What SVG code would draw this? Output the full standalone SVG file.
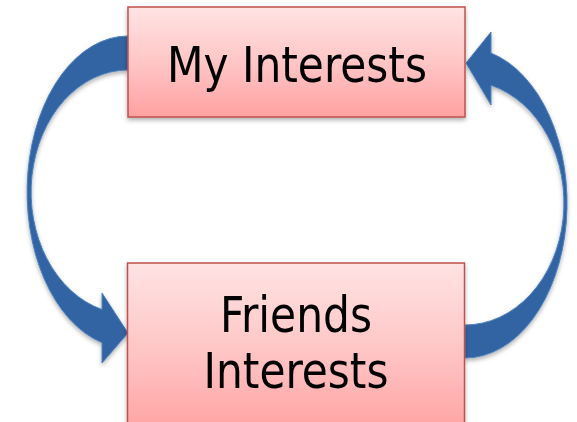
<svg xmlns="http://www.w3.org/2000/svg" width="577" height="422" viewBox="0 0 577 422">
  <style>
    .box { fill: url(#pinkFill); stroke: #c0504d; stroke-width: 1.5; filter: url(#shadow); }
    .arrow { fill: #3064a2; stroke: #4f81bd; stroke-width: 1; filter: url(#shadow); }
    .label { font-family: "DejaVu Sans Condensed", "DejaVu Sans", Tahoma, Verdana, sans-serif; font-stretch: condensed; font-size: 49px; fill: #000; text-anchor: middle; }
  </style>
  <defs>
    <linearGradient id="pinkFill" x1="0" y1="0" x2="0" y2="1">
      <stop offset="0" stop-color="#ffe3e3"/>
      <stop offset="0.5" stop-color="#ffc6c6"/>
      <stop offset="1" stop-color="#ffa1a1"/>
    </linearGradient>
    <filter id="shadow" x="-10%" y="-10%" width="120%" height="130%">
      <feDropShadow dx="0" dy="2.5" stdDeviation="2" flood-color="#000" flood-opacity="0.3"/>
    </filter>
  </defs>

  <!-- curved block arrows -->
  <g id="connectors">
    <path class="arrow" d="M 128,36 A 101 156 0 0 0 102,342.7 L 102,363 L 128,333 L 102,293 L 102,309.5 A 97 122 0 0 1 128,70 Z"/>
    <path class="arrow" d="M 465,358 A 102 155 0 0 0 491,53.1 L 491,32 L 466,63 L 491,105 L 491,85.3 A 99 122 0 0 1 465,325 Z"/>
  </g>

  <g id="my-interests">
    <rect class="box" x="128" y="7" width="337" height="110"/>
    <text class="label" x="297" y="82" textLength="260" lengthAdjust="spacingAndGlyphs">My Interests</text>
  </g>

  <g id="friends-interests">
    <rect class="box" x="127.5" y="263" width="337" height="172"/>
    <text class="label" x="296" y="332" textLength="152" lengthAdjust="spacingAndGlyphs">Friends</text>
    <text class="label" x="296" y="388" textLength="185" lengthAdjust="spacingAndGlyphs">Interests</text>
  </g>
</svg>
